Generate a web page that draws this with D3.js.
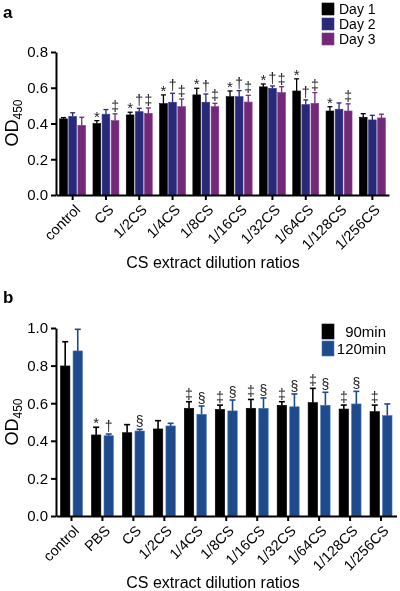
<!DOCTYPE html>
<html><head><meta charset="utf-8">
<script src="https://cdn.jsdelivr.net/npm/d3@7"></script>
<style>
body{margin:0;background:#fff;}
svg{display:block;font-family:"Liberation Sans",Arial,Helvetica,sans-serif;transform:translateZ(0);}
</style></head>
<body><svg id="c" width="400" height="591"></svg>
<script>
// ---------- Panel a data ----------
const catsA = ["control","CS","1/2CS","1/4CS","1/8CS","1/16CS","1/32CS","1/64CS","1/128CS","1/256CS"];
const seriesA = ["Day 1","Day 2","Day 3"];
const colorsA = ["#000000","#29297a","#722a78"];
const day1 = [0.426,0.400,0.448,0.511,0.560,0.550,0.605,0.582,0.470,0.435];
const day2 = [0.440,0.452,0.466,0.519,0.519,0.550,0.597,0.506,0.480,0.420];
const day3 = [0.390,0.416,0.457,0.494,0.494,0.520,0.573,0.513,0.470,0.431];
const day1Err = [0.007,0.016,0.015,0.049,0.037,0.032,0.016,0.068,0.024,0.020];
const day2Err = [0.020,0.026,0.019,0.050,0.046,0.034,0.013,0.026,0.035,0.026];
const day3Err = [0.045,0.038,0.030,0.043,0.019,0.038,0.033,0.060,0.040,0.021];
const marksA = [["","",""],["*","","‡"],["*","†","‡"],["*","†","‡"],["*","†","‡"],["*","†","‡"],["*","†","‡"],["*","†","‡"],["*","","‡"],["","",""]];
const yTicksA = [0,0.2,0.4,0.6,0.8];

// ---------- Panel b data ----------
const catsB = ["control","PBS","CS","1/2CS","1/4CS","1/8CS","1/16CS","1/32CS","1/64CS","1/128CS","1/256CS"];
const seriesB = ["90min","120min"];
const colorsB = ["#000000","#1f4b8c"];
const min90 = [0.798,0.431,0.443,0.463,0.573,0.567,0.573,0.589,0.603,0.569,0.555];
const min120 = [0.878,0.427,0.452,0.479,0.541,0.559,0.573,0.581,0.589,0.596,0.534];
const min90Err = [0.129,0.041,0.043,0.044,0.035,0.023,0.047,0.019,0.076,0.021,0.035];
const min120Err = [0.115,0.009,0.009,0.014,0.044,0.058,0.055,0.068,0.069,0.067,0.062];
const marksB = [["",""],["*","†"],["","§"],["",""],["‡","§"],["‡","§"],["‡","§"],["‡","§"],["‡","§"],["‡","§"],["‡",""]];
const yTicksB = [0,0.2,0.4,0.6,0.8,1.0];

const svg = d3.select("#c");

function panel(cfg){
  const g = svg.append("g");
  const y = d3.scaleLinear().domain([0, cfg.yMax]).range([cfg.y0, cfg.y1]);
  const x0 = d3.scaleBand().domain(cfg.cats).range(cfg.xr).paddingInner(cfg.pi).paddingOuter(cfg.pi/2);
  const x1 = d3.scaleBand().domain(cfg.series).range([0, x0.bandwidth()]).paddingInner(cfg.pi2);
  const rows = [];
  cfg.cats.forEach((c,i)=>{
    cfg.series.forEach((s,j)=>{
      rows.push({c, s, j, v: cfg.vals[j][i], e: cfg.errs[j][i], m: cfg.marks[i][j]});
    });
  });
  // bars
  g.selectAll("rect.bar").data(rows).enter().append("rect")
    .attr("x", d=>x0(d.c)+x1(d.s))
    .attr("y", d=>y(d.v))
    .attr("width", x1.bandwidth())
    .attr("height", d=>y(0)-y(d.v))
    .attr("fill", d=>cfg.colors[d.j])
    .attr("stroke", d=>cfg.strokes[d.j])
    .attr("stroke-width", 0.6);
  // error bars
  const eg = g.selectAll("g.err").data(rows).enter().append("g")
    .attr("stroke", d=>cfg.colors[d.j]).attr("stroke-width", cfg.ew);
  eg.append("line")
    .attr("x1", d=>x0(d.c)+x1(d.s)+x1.bandwidth()/2)
    .attr("x2", d=>x0(d.c)+x1(d.s)+x1.bandwidth()/2)
    .attr("y1", d=>y(d.v)).attr("y2", d=>y(d.v+d.e));
  eg.append("line")
    .attr("x1", d=>x0(d.c)+x1(d.s)+x1.bandwidth()/2-cfg.cap/2)
    .attr("x2", d=>x0(d.c)+x1(d.s)+x1.bandwidth()/2+cfg.cap/2)
    .attr("y1", d=>y(d.v+d.e)).attr("y2", d=>y(d.v+d.e));
  // significance marks
  g.selectAll("text.mark").data(rows.filter(d=>d.m)).enter().append("text")
    .attr("x", d=>x0(d.c)+x1(d.s)+x1.bandwidth()/2)
    .attr("y", d=>y(d.v+d.e) - (d.m==="*" ? -1 : 3))
    .attr("text-anchor","middle")
    .attr("font-size", d=>d.m==="*"?"15px":"14px")
    .attr("fill","#222")
    .text(d=>d.m);
  // y axis
  const ya = g.append("g").attr("transform",`translate(${cfg.xr[0]},0)`)
    .call(d3.axisLeft(y).tickValues(cfg.yTicks).tickFormat(d3.format(".1f")).tickSize(5).tickSizeOuter(0).tickPadding(3));
  ya.select(".domain").attr("stroke-width",2);
  ya.selectAll(".tick line").attr("stroke-width",2);
  ya.selectAll(".tick text").attr("font-size","15px").attr("fill","#000").attr("font-family","Liberation Sans, Arial, sans-serif");
  // x axis
  const xa = g.append("g").attr("transform",`translate(0,${cfg.y0})`)
    .call(d3.axisBottom(x0).tickSize(5).tickSizeOuter(0));
  xa.select(".domain").attr("stroke-width",2);
  xa.selectAll(".tick line").attr("stroke-width",2);
  xa.selectAll(".tick text")
    .attr("font-size","14.5px").attr("fill","#000").attr("font-family","Liberation Sans, Arial, sans-serif")
    .attr("text-anchor","end")
    .attr("y",0).attr("dy","0.35em")
    .attr("transform","translate(5,12) rotate(-45)");
  // x title
  g.append("text").attr("x",213).attr("y",cfg.xTitleY).attr("text-anchor","middle")
    .attr("font-size","16px").text("CS extract dilution ratios");
  // y title
  const yt = g.append("text").attr("transform",`translate(17.5,${cfg.yTitleY}) rotate(-90)`)
    .attr("text-anchor","middle").attr("font-size","18px");
  yt.append("tspan").text("OD");
  yt.append("tspan").attr("font-size","12px").attr("dy","4").text("450");
  // panel letter
  g.append("text").attr("x",3).attr("y",cfg.letterY).attr("font-size","17px").attr("font-weight","bold").text(cfg.letter);
  // legend
  const lg = g.append("g");
  cfg.series.forEach((s,j)=>{
    lg.append("rect").attr("x",322).attr("y",cfg.legY[j]).attr("width",12).attr("height",cfg.legH)
      .attr("fill",cfg.colors[j]).attr("stroke",cfg.strokes[j]).attr("stroke-width",0.6);
    lg.append("text").attr("x",cfg.legTextX).attr("y",cfg.legY[j]+cfg.legBase)
      .attr("text-anchor",cfg.legAnchor).attr("font-size",cfg.legFont).text(s);
  });
}

panel({
  cats: catsA, series: seriesA, colors: colorsA, strokes: ["#000","#3a3a90","#8a3a90"],
  vals: [day1,day2,day3], errs: [day1Err,day2Err,day3Err], marks: marksA,
  yMax: 0.8, y0: 195, y1: 52, yTicks: yTicksA,
  xr: [56, 389], pi: 0.22, pi2: 0.15, ew: 1.3, cap: 5,
  xTitleY: 268, yTitleY: 123, letter: "a", letterY: 18,
  legY: [3,18,33], legH: 12, legBase: 11, legTextX: 339, legAnchor: "start", legFont: "14px"
});

panel({
  cats: catsB, series: seriesB, colors: colorsB, strokes: ["#000","#4a78b8"],
  vals: [min90,min120], errs: [min90Err,min120Err], marks: marksB,
  yMax: 1.0, y0: 516, y1: 328, yTicks: yTicksB,
  xr: [56, 396.5], pi: 0.29, pi2: 0.25, ew: 1.6, cap: 6,
  xTitleY: 588, yTitleY: 422, letter: "b", letterY: 303,
  legY: [324,341], legH: 15, legBase: 13, legTextX: 386, legAnchor: "end", legFont: "15px"
});
</script>
</body></html>
